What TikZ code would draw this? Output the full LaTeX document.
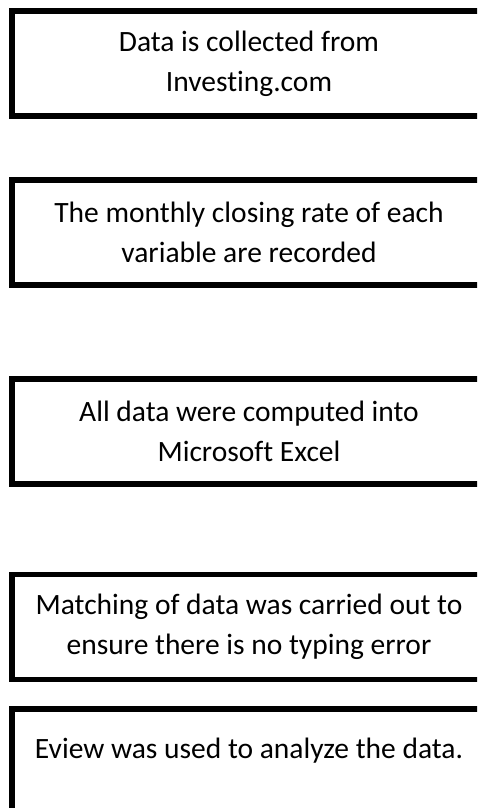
\documentclass[tikz,border=0pt]{standalone}
\usepackage{fontspec}
\setmainfont{Carlito}[Ligatures=NoCommon]
\usepackage{tikz}

\begin{document}
\begin{tikzpicture}[x=1pt,y=-1pt,line width=5.5pt,
  stagefont/.style={font=\fontsize{29.5}{40}\selectfont},
  stagebox/.style={draw,stagefont,minimum width=474pt,minimum height=105pt,inner sep=0pt,align=center}]
\useasboundingbox (0,0) rectangle (477,808);
\clip (0,0) rectangle (477,808);
\node[stagebox] (collect) at (249,63.5) {Data is collected from\\Investing.com};
\node[stagebox] (record) at (249,232.5) {The monthly closing rate of each\\variable are recorded};
\node[stagebox] (compute) at (249,431.5) {All data were computed into\\Microsoft Excel};
\node[stagebox] (match) at (249,627) {Matching of data was carried out to\\ensure there is no typing error};
\node[stagebox,minimum height=121pt] (analyze) at (249,769.5) {};
\node[stagefont,anchor=base,inner sep=0pt] (analyzetext) at (249,758) {Eview was used to analyze the data.};
\end{tikzpicture}
\end{document}
